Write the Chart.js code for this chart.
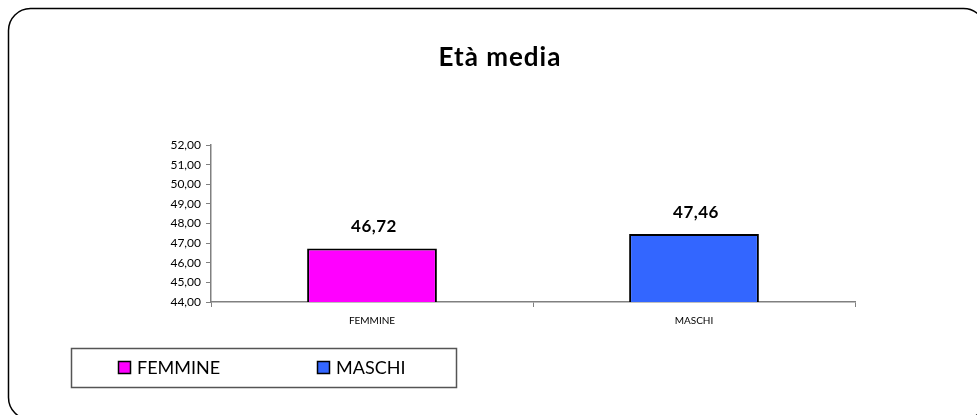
<!DOCTYPE html>
<html>
<head>
<meta charset="utf-8">
<script src="https://cdn.jsdelivr.net/npm/chart.js@4"></script>
<style>
html,body{margin:0;padding:0;background:#fff;}
canvas{display:block;}
</style>
</head>
<body>
<canvas id="c" width="977" height="415"></canvas>
<script>
const titleText = 'Età media';
const categories = ['FEMMINE', 'MASCHI'];
const values = [46.72, 47.46];
const barColors = ['#FF00FF', '#3366FF'];
const yMin = 44, yMax = 52, yStep = 1;

const FONT = 'Lato, "DejaVu Sans", sans-serif';
const fmt = v => Number(v).toFixed(2).replace('.', ',');

const decor = {
  id: 'decor',
  beforeDraw(chart) {
    const ctx = chart.ctx;
    ctx.save();
    ctx.fillStyle = '#fff';
    ctx.fillRect(0, 0, chart.width, chart.height);
    ctx.beginPath();
    ctx.roundRect(8.5, 8.5, 977, 411, 22);
    ctx.lineWidth = 1.5;
    ctx.strokeStyle = '#000';
    ctx.stroke();
    ctx.restore();
  },
  afterDatasetsDraw(chart) {
    const ctx = chart.ctx;
    ctx.save();
    // title
    ctx.fillStyle = '#000';
    ctx.letterSpacing = '1px';
    ctx.font = 'bold 26px ' + FONT;
    ctx.textAlign = 'center';
    ctx.textBaseline = 'middle';
    ctx.fillText(titleText, 500, 58);
    // data labels
    ctx.letterSpacing = '0.5px';
    ctx.font = 'bold 17px ' + FONT;
    const meta = chart.getDatasetMeta(0);
    meta.data.forEach((bar, i) => {
      ctx.fillText(fmt(chart.data.datasets[0].data[i]), bar.x + 2, bar.y - 22);
    });
    // legend
    ctx.letterSpacing = '0px';
    ctx.lineWidth = 1.5;
    ctx.strokeStyle = '#555';
    ctx.strokeRect(71.5, 348.5, 385, 39);
    const itemX = [118, 317];
    ctx.font = '18px ' + FONT;
    ctx.textAlign = 'left';
    chart.data.labels.forEach((lab, i) => {
      const col = chart.data.datasets[0].backgroundColor[i];
      ctx.fillStyle = col;
      ctx.fillRect(itemX[i] + 0.5, 361.5, 12, 12);
      ctx.lineWidth = 1.5;
      ctx.strokeStyle = '#000';
      ctx.strokeRect(itemX[i] + 0.5, 361.5, 12, 12);
      ctx.fillStyle = '#000';
      ctx.fillText(lab, itemX[i] + 19, 368);
    });
    ctx.restore();
  }
};

new Chart(document.getElementById('c'), {
  type: 'bar',
  data: {
    labels: categories,
    datasets: [{
      data: values,
      backgroundColor: barColors,
      borderColor: '#000',
      borderWidth: 2,
      barPercentage: 0.403,
      categoryPercentage: 1
    }]
  },
  options: {
    responsive: false,
    animation: false,
    devicePixelRatio: 1,
    layout: { padding: { left: 151, right: 122, top: 145, bottom: 83 } },
    plugins: { legend: { display: false }, title: { display: false }, tooltip: { enabled: false } },
    scales: {
      x: {
        afterFit: s => { s.height = 30; },
        grid: { offset: true, drawOnChartArea: false, drawTicks: true, tickLength: 5, color: '#808080', lineWidth: 1 },
        border: { display: true, color: '#808080', width: 1.5 },
        ticks: { color: '#000', font: { family: FONT, size: 10 }, padding: 8 }
      },
      y: {
        min: yMin, max: yMax,
        afterFit: s => { s.width = 60; },
        grid: { drawOnChartArea: false, drawTicks: true, tickLength: 5, color: '#808080', lineWidth: 1 },
        border: { display: true, color: '#808080', width: 1.5 },
        ticks: { stepSize: yStep, color: '#000', font: { family: FONT, size: 12 }, padding: 5, callback: v => fmt(v) }
      }
    }
  },
  plugins: [decor]
});
</script>
</body>
</html>
